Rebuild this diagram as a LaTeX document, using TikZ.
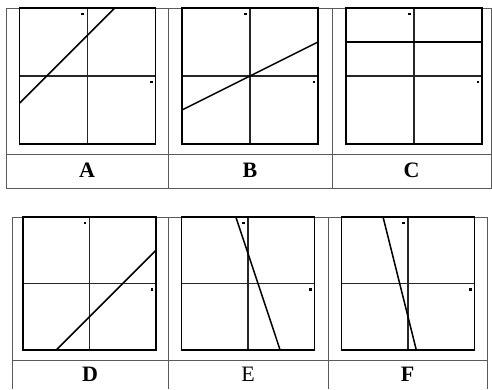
\documentclass[tikz,border=0pt]{standalone}
\usepackage{fontspec}
\setmainfont{Liberation Serif}
\usepackage{tikz}
\usetikzlibrary{positioning, calc}
\definecolor{tableGray}{HTML}{5A5A5A}

\begin{document}
\begin{tikzpicture}[x=1pt, y=-1pt,
    cellrule/.style={draw=tableGray, line width=1pt},
    gframe/.style={draw=black, line width=1.8pt},
    gaxis/.style={draw=black!85, line width=1.1pt},
    gline/.style={draw=black, line width=1.5pt},
    gdot/.style={fill=black, inner sep=0pt, minimum size=2.6pt, rectangle},
    lbl/.style={font=\fontsize{22}{22}\selectfont\bfseries, inner sep=0pt}
  ]
  \useasboundingbox (0,0) rectangle (492,389);
  % top table
  \draw[cellrule] (6,8) rectangle (491.5,188);
  \draw[cellrule] (6,154) -- (491.5,154);
  \foreach \x in {168,332} {\draw[cellrule] (\x,8) -- (\x,188);}
  % bottom table
  \draw[cellrule] (12,389) -- (12,217) -- (487,217) -- (487,389);
  \draw[cellrule] (12,360) -- (487,360);
  \foreach \x in {168,328} {\draw[cellrule] (\x,217) -- (\x,389);}
  % graphs: name / centre / half size / line from (x1,y1) to (x2,y2)
  \foreach \n/\cx/\cy/\h/\xa/\ya/\xb/\yb in {
      A/87.5/76/68/-1/-0.4/0.4/1,
      B/250/76/68/-1/-0.5/1/0.5,
      C/414/76/68/-1/0.5/1/0.5,
      D/89.5/283.5/66.5/-0.5/-1/1/0.5,
      E/248/283.5/66.5/-0.183/1/0.483/-1,
      F/408/283.5/66.5/-0.375/1/0.125/-1} {
    \begin{scope}[shift={(\cx,\cy)}, x=\h pt, y=\h pt]
      \draw[gaxis] (-1,0) -- (1,0);
      \draw[gaxis] (0,-1) -- (0,1);
      \draw[gline] (\xa,\ya) -- (\xb,\yb);
      \draw[gframe] (-1,-1) rectangle (1,1);
      \node[gdot] (top\n) at (-0.07,0.91) {};
      \node[gdot] (right\n) at (0.94,-0.09) {};
    \end{scope}
  }
  % labels
  \node[lbl] (lblA) at (87,170) {A};
  \node[lbl] (lblB) at (250,170) {B};
  \node[lbl] (lblC) at (411.5,170) {C};
  \node[lbl] (lblD) at (90,374) {D};
  \node[lbl, font=\fontsize{22}{22}\selectfont] (lblE) at (248,374) {E};
  \node[lbl] (lblF) at (407.5,374) {F};
\end{tikzpicture}
\end{document}
